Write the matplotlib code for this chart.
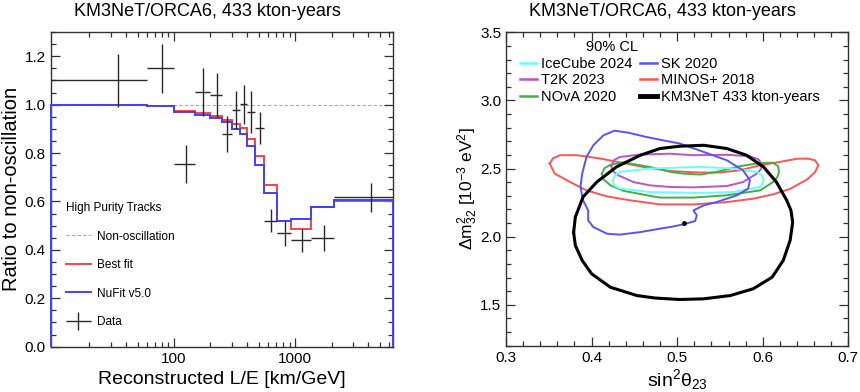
import numpy as np
import matplotlib
matplotlib.use("Agg")
import matplotlib.pyplot as plt
from matplotlib.lines import Line2D
from matplotlib.legend_handler import HandlerErrorbar
from matplotlib.ticker import FixedLocator, FixedFormatter, NullFormatter, MultipleLocator, FormatStrFormatter

plt.rcParams['font.family'] = ['Liberation Sans', 'DejaVu Sans']
plt.rcParams['mathtext.default'] = 'regular'

# ------------------------------------------------------------------
# Left panel: ratio to non-oscillation vs reconstructed L/E
# ------------------------------------------------------------------
le_edges = [9.6, 60, 100, 150, 200, 250, 300, 350, 400, 467, 557, 715, 927, 1355, 2113, 6400]
data_ratio = [1.10, 1.15, 0.755, 1.052, 1.040, 0.879, 0.978, 1.001, 0.970, 0.904,
              0.521, 0.468, 0.440, 0.448, 0.617]
data_err = [0.11, 0.10, 0.077, 0.10, 0.092, 0.074, 0.077, 0.08, 0.087, 0.065,
            0.048, 0.052, 0.048, 0.053, 0.06]
best_fit = [1.0, 0.993, 0.974, 0.967, 0.952, 0.938, 0.921, 0.903, 0.858, 0.786,
            0.669, 0.521, 0.488, 0.577, 0.600]
nufit = [1.0, 0.993, 0.971, 0.957, 0.945, 0.930, 0.900, 0.879, 0.830, 0.749,
         0.635, 0.521, 0.527, 0.577, 0.604]

# ------------------------------------------------------------------
# Right panel: 90% CL contours (sin^2 theta23, dm^2_32 [1e-3 eV^2])
# ------------------------------------------------------------------
km3_s2 = [0.379, 0.381, 0.390, 0.406, 0.429, 0.457, 0.480, 0.503, 0.531, 0.558,
          0.581, 0.601, 0.616, 0.628, 0.633, 0.635, 0.632, 0.624, 0.611, 0.589,
          0.562, 0.531, 0.503, 0.474, 0.453, 0.422, 0.400, 0.389, 0.381]
km3_dm = [2.032, 2.144, 2.291, 2.401, 2.512, 2.598, 2.647, 2.664, 2.671, 2.647,
          2.598, 2.512, 2.401, 2.267, 2.193, 2.105, 1.973, 1.826, 1.703, 1.618,
          1.568, 1.544, 1.539, 1.550, 1.568, 1.629, 1.728, 1.826, 1.936]

sk_s2 = [0.390, 0.387, 0.389, 0.394, 0.402, 0.414, 0.427, 0.443, 0.464, 0.486,
         0.503, 0.531, 0.558, 0.577, 0.585, 0.583, 0.570, 0.546, 0.531, 0.519,
         0.523, 0.521, 0.507, 0.492, 0.480, 0.457, 0.433, 0.418, 0.402, 0.396,
         0.396, 0.392]
sk_dm = [2.267, 2.365, 2.463, 2.585, 2.671, 2.745, 2.778, 2.763, 2.732, 2.704,
         2.684, 2.622, 2.561, 2.487, 2.414, 2.353, 2.304, 2.254, 2.230, 2.193,
         2.157, 2.115, 2.090, 2.071, 2.059, 2.034, 2.015, 2.022, 2.071, 2.120,
         2.193, 2.243]

minos_s2 = [0.351, 0.355, 0.363, 0.383, 0.410, 0.437, 0.464, 0.492, 0.527, 0.550,
            0.573, 0.597, 0.620, 0.640, 0.652, 0.661, 0.665, 0.661, 0.652, 0.632,
            0.612, 0.589, 0.558, 0.519, 0.480, 0.445, 0.418, 0.394, 0.375, 0.357]
minos_dm = [2.537, 2.576, 2.598, 2.598, 2.574, 2.541, 2.507, 2.482, 2.471, 2.471,
            2.487, 2.524, 2.549, 2.572, 2.574, 2.561, 2.524, 2.473, 2.421, 2.351,
            2.311, 2.279, 2.254, 2.237, 2.237, 2.267, 2.296, 2.340, 2.401, 2.463]

t2k_s2 = [0.423, 0.426, 0.433, 0.457, 0.492, 0.519, 0.558, 0.585, 0.595, 0.599,
          0.598, 0.593, 0.577, 0.558, 0.519, 0.492, 0.468, 0.449, 0.431, 0.424]
t2k_dm = [2.517, 2.561, 2.585, 2.603, 2.609, 2.598, 2.601, 2.590, 2.568, 2.531,
          2.495, 2.463, 2.401, 2.372, 2.362, 2.365, 2.377, 2.401, 2.451, 2.487]

nova_s2 = [0.412, 0.415, 0.422, 0.437, 0.468, 0.492, 0.507, 0.527, 0.546, 0.573,
           0.597, 0.612, 0.618, 0.619, 0.617, 0.612, 0.597, 0.558, 0.519, 0.480,
           0.468, 0.437, 0.422, 0.414]
nova_dm = [2.463, 2.502, 2.528, 2.546, 2.512, 2.476, 2.463, 2.456, 2.475, 2.517,
           2.541, 2.543, 2.517, 2.475, 2.436, 2.401, 2.340, 2.304, 2.287, 2.287,
           2.300, 2.337, 2.377, 2.421]

icecube_s2 = [0.425, 0.427, 0.433, 0.468, 0.527, 0.566, 0.593, 0.599, 0.601, 0.599,
              0.597, 0.566, 0.527, 0.468, 0.433, 0.426]
icecube_dm = [2.414, 2.451, 2.475, 2.500, 2.512, 2.500, 2.475, 2.451, 2.414, 2.385,
              2.365, 2.328, 2.321, 2.328, 2.353, 2.377]

best_fit_point = (0.508, 2.103)


def closed(xs, ys):
    return list(xs) + [xs[0]], list(ys) + [ys[0]]


fig = plt.figure(figsize=(8.6, 3.92), dpi=100)
ax1 = fig.add_axes([0.059, 0.1156, 0.3977, 0.8028])
ax2 = fig.add_axes([0.5884, 0.1181, 0.398, 0.7995])

frame_col = '#333333'

# ---------------- left panel ----------------
edges = np.array(le_edges)
centers = 0.5 * (edges[:-1] + edges[1:])
half_w = 0.5 * np.diff(edges)

ax1.axhline(1.0, color='#aaaaaa', lw=0.8, ls=(0, (3, 2)), zorder=1)
ax1.stairs(best_fit, edges, baseline=0, color='#ff4040', lw=1.4, zorder=3, clip_on=False)
ax1.stairs(nufit, edges, baseline=0, color='#4040ff', lw=1.4, zorder=3.1, clip_on=False)
err = ax1.errorbar(centers, data_ratio, xerr=half_w, yerr=data_err, fmt='none',
                   ecolor='#2a2a2a', elinewidth=1.0, capsize=0, zorder=4)

ax1.set_xscale('log')
ax1.set_xlim(le_edges[0], le_edges[-1])
ax1.set_ylim(0, 1.3)
ax1.xaxis.set_major_locator(FixedLocator([100, 1000]))
ax1.xaxis.set_major_formatter(FixedFormatter(['100', '1000']))
ax1.xaxis.set_minor_locator(FixedLocator([20, 30, 40, 50, 60, 70, 80, 90,
                                          200, 300, 400, 500, 600, 700, 800, 900,
                                          2000, 3000, 4000, 5000, 6000]))
ax1.xaxis.set_minor_formatter(NullFormatter())
ax1.yaxis.set_major_locator(MultipleLocator(0.2))
ax1.yaxis.set_minor_locator(MultipleLocator(0.05))
ax1.yaxis.set_major_formatter(FormatStrFormatter('%.1f'))
ax1.set_xlabel('Reconstructed L/E [km/GeV]', fontsize=14, labelpad=4)
ax1.set_ylabel('Ratio to non-oscillation', fontsize=14.5, labelpad=2.5)

handles = [Line2D([], [], color='#aaaaaa', lw=0.8, ls=(0, (3, 2))),
           Line2D([], [], color='#ff4040', lw=1.4),
           Line2D([], [], color='#4040ff', lw=1.4),
           err]
ax1.legend(handles, ['Non-oscillation', 'Best fit', 'NuFit v5.0', 'Data'],
           title='High Purity Tracks', title_fontsize=8.5, fontsize=8.5,
           alignment='left', frameon=False, loc='upper left',
           bbox_to_anchor=(66 / 860, 1 - 202 / 392), bbox_transform=fig.transFigure,
           borderpad=0, borderaxespad=0, handlelength=2.1, handletextpad=0.5,
           labelspacing=1.4,
           handler_map={type(err): HandlerErrorbar(xerr_size=1.05, yerr_size=0.75)})

# ---------------- right panel ----------------
ax2.plot(*closed(minos_s2, minos_dm), color='#ff5555', lw=1.4)
ax2.plot(*closed(t2k_s2, t2k_dm), color='#bb55cc', lw=1.4)
ax2.plot(*closed(nova_s2, nova_dm), color='#44b044', lw=1.4)
ax2.plot(*closed(icecube_s2, icecube_dm), color='#66ffff', lw=1.4)
ax2.plot(*closed(sk_s2, sk_dm), color='#5555ff', lw=1.4)
ax2.plot(*closed(km3_s2, km3_dm), color='black', lw=2.2, solid_joinstyle='round')
ax2.plot(*best_fit_point, 'o', color='black', ms=2.5)

ax2.set_xlim(0.3, 0.7)
ax2.set_ylim(1.2, 3.5)
ax2.xaxis.set_major_locator(MultipleLocator(0.1))
ax2.xaxis.set_minor_locator(MultipleLocator(0.02))
ax2.yaxis.set_major_locator(MultipleLocator(0.5))
ax2.yaxis.set_minor_locator(MultipleLocator(0.1))
ax2.xaxis.set_major_formatter(FormatStrFormatter('%.1f'))
ax2.yaxis.set_major_formatter(FormatStrFormatter('%.1f'))
ax2.set_xlabel('sin$^{2}$θ$_{23}$', fontsize=14, labelpad=2)
ax2.set_ylabel('Δm$^{2}_{32}$ [10$^{-3}$ eV$^{2}$]', fontsize=12.5, labelpad=0)

h2 = [Line2D([], [], color='#66ffff', lw=1.8),
      Line2D([], [], color='#bb55cc', lw=1.8),
      Line2D([], [], color='#44b044', lw=1.8),
      Line2D([], [], color='#5555ff', lw=1.8),
      Line2D([], [], color='#ff5555', lw=1.8),
      Line2D([], [], color='black', lw=3.5)]
l2 = ['IceCube 2024', 'T2K 2023', 'NOvA 2020', 'SK 2020', 'MINOS+ 2018', 'KM3NeT 433 kton-years']
ax2.legend(h2, l2, ncol=2, fontsize=10.5, frameon=False, loc='upper left',
           bbox_to_anchor=(520 / 860, 1 - 57 / 392), bbox_transform=fig.transFigure,
           borderpad=0, borderaxespad=0, handlelength=1.15, handletextpad=0.3,
           columnspacing=0.5, labelspacing=0.17)
fig.text(611.7 / 860, 1 - 47 / 392, '90% CL', fontsize=10.5, ha='center', va='center')

for ax in (ax1, ax2):
    ax.tick_params(which='both', direction='in', top=True, right=True,
                   color=frame_col, labelsize=11)
    ax.tick_params(which='major', length=6.5, width=0.9)
    ax.tick_params(which='minor', length=3.5, width=0.9)
    for sp in ax.spines.values():
        sp.set_color(frame_col)
        sp.set_linewidth(1.0)

fig.text(207 / 860, 1 - 11.5 / 392, 'KM3NeT/ORCA6, 433 kton-years', fontsize=13,
         ha='center', va='center')
fig.text(662.5 / 860, 1 - 11.5 / 392, 'KM3NeT/ORCA6, 433 kton-years', fontsize=13,
         ha='center', va='center')

fig.savefig('out.png', dpi=100)
